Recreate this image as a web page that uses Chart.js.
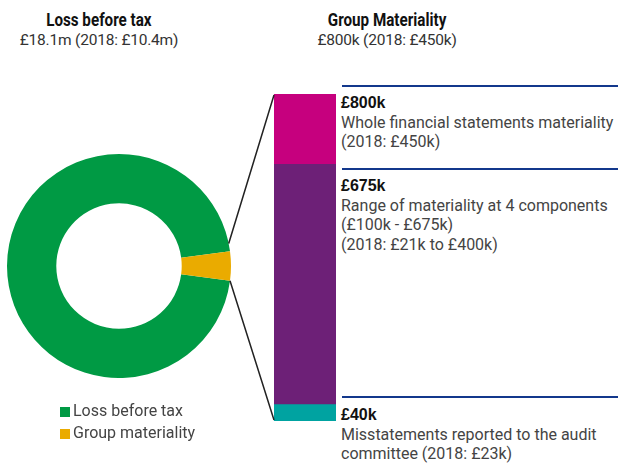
<!DOCTYPE html>
<html>
<head>
<meta charset="utf-8">
<script src="https://cdn.jsdelivr.net/npm/chart.js@4.4.1/dist/chart.umd.min.js"></script>
<style>
  body { margin: 0; background: #fff; }
  #wrap { position: relative; width: 620px; height: 464px; overflow: hidden;
          font-family: Roboto, "Liberation Sans", sans-serif; color: #444; }
  canvas { position: absolute; }
  .head { position: absolute; text-align: center; font-size: 15.5px; line-height: 20px; color: #333; letter-spacing: -0.2px; }
  .head b { display: block; font-size: 19px; line-height: 21px; color: #111; letter-spacing: 0; }
  .head b span { display: inline-block; transform: scaleX(0.8); }
  .note { position: absolute; left: 341px; width: 279px; font-size: 16px; line-height: 19.5px; }
  .note b { display: block; font-family: "Liberation Sans", sans-serif; font-size: 16px; color: #111; }
  .rule { position: absolute; left: 342px; width: 276px; height: 2px; background: #13388c; }
  #legend { position: absolute; left: 60px; top: 400px; font-size: 16px; line-height: 22px; }
  #legend span { display: inline-block; width: 10px; height: 10px; margin-right: 3px; vertical-align: -1px; }
</style>
</head>
<body>
<div id="wrap">
  <div class="head" style="left:0;top:9px;width:198px"><b><span>Loss before tax</span></b>£18.1m (2018: £10.4m)</div>
  <div class="head" style="left:287px;top:9px;width:200px"><b><span>Group Materiality</span></b>£800k (2018: £450k)</div>

  <div class="rule" style="top:85px"></div>
  <div class="rule" style="top:168px"></div>
  <div class="rule" style="top:396px"></div>

  <div class="note" style="top:93px"><b>£800k</b>Whole financial statements materiality<br>(2018: £450k)</div>
  <div class="note" style="top:176px"><b>£675k</b>Range of materiality at 4 components<br>(£100k - £675k)<br>(2018: £21k to £400k)</div>
  <div class="note" style="top:405px"><b>£40k</b>Misstatements reported to the audit<br>committee (2018: £23k)</div>

  <canvas id="donut" width="224" height="224" style="left:7px;top:154px"></canvas>
  <canvas id="bars" width="620" height="464" style="left:0;top:0"></canvas>
  <div id="legend"></div>
</div>

<script>
// doughnut: loss before tax vs group materiality (£m)
const donutLabels = ['Loss before tax', 'Group materiality'];
const donutValues = [18.1, 0.8];
const donutColors = ['#009a44', '#eaab00'];

// materiality bar (£k), segments drawn bottom to top
const barLabels = ['Misstatements reported', 'Component materiality', 'Whole financial statements'];
const barRanges = [[0, 40], [40, 628], [628, 800]];
const barColors = ['#00a3a1', '#6d2077', '#c6007e'];

const DONUT_LEFT = 7, DONUT_TOP = 154;

// rotate so the materiality slice sits at 3 o'clock
const total = donutValues.reduce((a, b) => a + b, 0);
const rot = 90 - 360 * (donutValues[0] + donutValues[1] / 2) / total;

const donut = new Chart(document.getElementById('donut'), {
  type: 'doughnut',
  data: {
    labels: donutLabels,
    datasets: [{ data: donutValues, backgroundColor: donutColors, borderWidth: 0 }]
  },
  options: {
    responsive: false,
    animation: false,
    rotation: rot,
    cutout: '56%',
    layout: { padding: 0 },
    plugins: { legend: { display: false }, tooltip: { enabled: false } }
  }
});

// connector lines from the small slice to the bar
const connector = {
  id: 'connector',
  afterDatasetsDraw(chart) {
    const arc = donut.getDatasetMeta(0).data[1];
    const top = chart.getDatasetMeta(2).data[0];
    const bottom = chart.getDatasetMeta(0).data[0];
    const left = top.x - top.width / 2;
    const pt = a => [DONUT_LEFT + arc.x + arc.outerRadius * Math.cos(a),
                     DONUT_TOP + arc.y + arc.outerRadius * Math.sin(a)];
    const p1 = pt(arc.startAngle - 0.07), p2 = pt(arc.endAngle);
    const ctx = chart.ctx;
    ctx.save();
    ctx.strokeStyle = '#222';
    ctx.lineWidth = 1.5;
    ctx.beginPath();
    ctx.moveTo(p1[0], p1[1]); ctx.lineTo(left, top.y + 1);
    ctx.moveTo(p2[0], p2[1]); ctx.lineTo(left, bottom.base - 1);
    ctx.stroke();
    ctx.restore();
  }
};

new Chart(document.getElementById('bars'), {
  type: 'bar',
  data: {
    labels: ['Group'],
    datasets: barRanges.map((r, i) => ({
      label: barLabels[i],
      data: [r],
      backgroundColor: barColors[i],
      borderWidth: 0,
      grouped: false,
      barPercentage: 1,
      categoryPercentage: 1
    }))
  },
  options: {
    responsive: false,
    animation: false,
    layout: { padding: { left: 274, right: 284, top: 94, bottom: 43 } },
    scales: {
      x: { display: false },
      y: { display: false, min: 0, max: 800 }
    },
    plugins: { legend: { display: false }, tooltip: { enabled: false } }
  },
  plugins: [connector]
});

document.getElementById('legend').innerHTML = donutLabels.map((l, i) =>
  `<div><span style="background:${donutColors[i]}"></span>${l}</div>`).join('');
</script>
</body>
</html>
